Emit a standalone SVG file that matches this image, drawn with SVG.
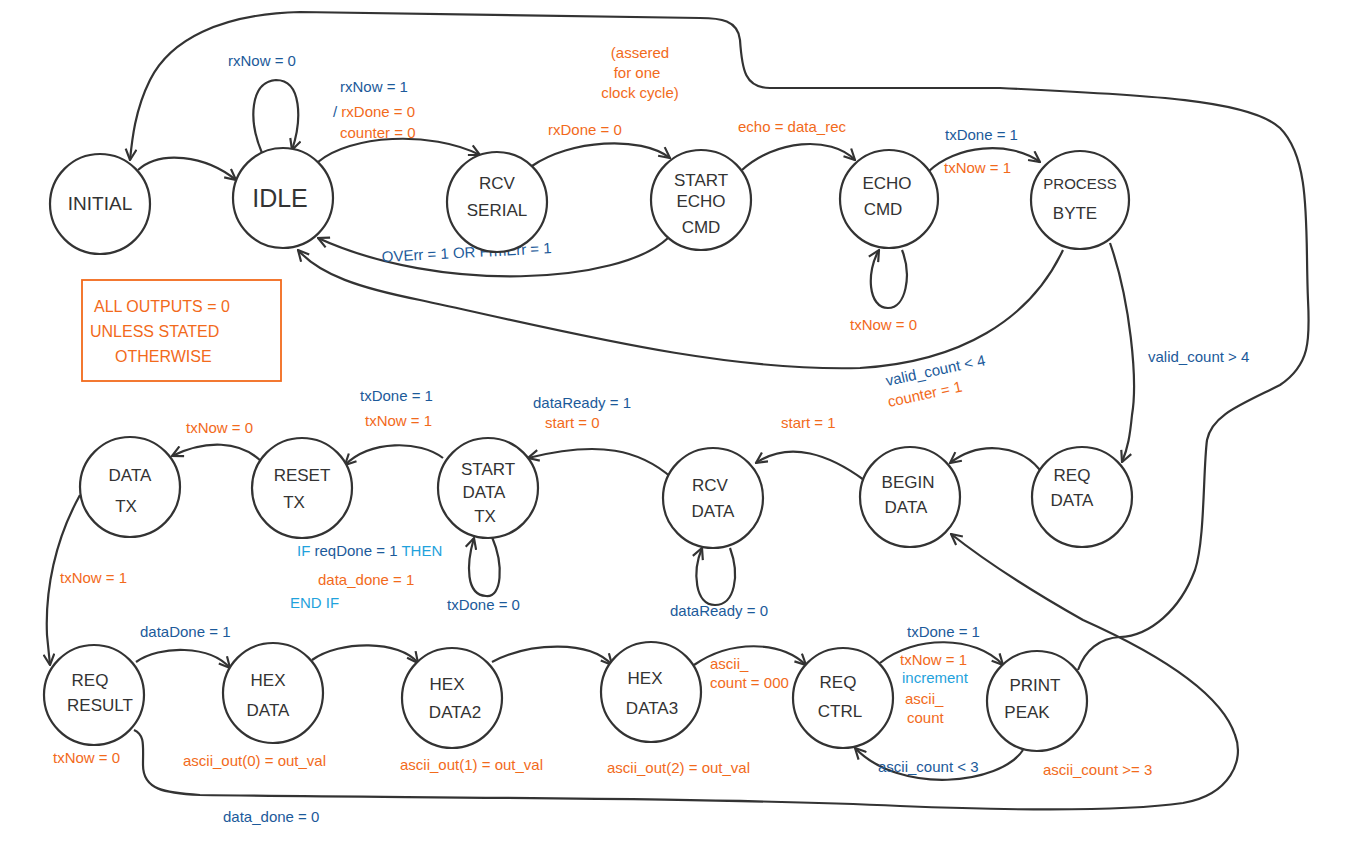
<svg xmlns="http://www.w3.org/2000/svg" width="1352" height="850" viewBox="0 0 1352 850">
<defs>
<marker id="arr" viewBox="0 0 12 12" refX="11" refY="6" markerWidth="13" markerHeight="13" markerUnits="userSpaceOnUse" orient="auto">
<path d="M1,1 L11,6 L1,11" fill="none" stroke="#333" stroke-width="2"/>
</marker>
<style>
.st{fill:#fff;stroke:#333;stroke-width:2.2}
.nt{font-family:"Liberation Sans",Arial,sans-serif;font-size:17px;fill:#333;text-anchor:middle}
.c{fill:none;stroke:#333;stroke-width:2.2;marker-end:url(#arr)}
.lb{font-family:"Liberation Sans",Arial,sans-serif;font-size:15px}
.b{fill:#1c5a9a}
.o{fill:#f26a1b}
.cy{fill:#1fa2dc}
</style>
</defs>
<rect width="1352" height="850" fill="#fff"/>

<g id="connectors">
<path class="c" d="M138,170 C160,150 205,155 236,180"/>
<path class="c" d="M262,153 C248,120 250,82 276,80 C302,80 302,120 292,150"/>
<path class="c" d="M318,162 C350,135 430,130 480,155"/>
<path class="c" d="M532,166 C570,140 640,135 670,158"/>
<path class="c" d="M668,238 C620,284 440,294 318,238"/>
<path class="c" d="M742,170 C775,140 830,135 855,160"/>
<path class="c" d="M902,250 C912,275 906,308 888,308 C868,308 866,272 879,250"/>
<path class="c" d="M928,172 C955,145 1010,140 1040,162"/>
<path class="c" d="M1063,250 C1030,320 960,362 860,368 C720,372 560,330 420,300 C360,288 320,275 298,250"/>
<path class="c" d="M1110,243 C1130,300 1138,380 1132,415 C1130,435 1128,448 1122,462"/>
<path class="c" d="M1040,470 C1020,445 980,440 950,463"/>
<path class="c" d="M864,480 C830,455 790,440 756,463"/>
<path class="c" d="M730,548 C740,575 735,605 715,605 C695,605 692,572 702,548"/>
<path class="c" d="M672,478 C640,450 600,440 528,458"/>
<path class="c" d="M492,537 C504,565 502,598 486,596 C466,595 466,565 474,538"/>
<path class="c" d="M443,458 C420,440 370,440 345,465"/>
<path class="c" d="M262,462 C240,440 205,440 172,456"/>
<path class="c" d="M80,495 C55,540 45,590 47,635 L50,665"/>
<path class="c" d="M136,662 C160,645 210,645 230,668"/>
<path class="c" d="M312,660 C340,640 400,640 418,663"/>
<path class="c" d="M492,662 C530,642 590,640 612,665"/>
<path class="c" d="M694,665 C730,640 780,640 806,665"/>
<path class="c" d="M880,663 C915,635 975,635 1003,665"/>
<path class="c" d="M1023,750 C1000,785 900,795 855,748"/>
<path class="c" d="M134,730 C145,735 143,745 143,765 C143,790 165,793 200,795 C400,798 700,797 900,806 C1000,810 1120,812 1183,803 C1230,795 1245,760 1235,735 C1220,690 1150,650 1083,620 C1030,590 990,565 951,534"/>
<path class="c" d="M1078,670 C1085,650 1100,638 1120,637 C1150,636 1180,610 1195,570 C1205,540 1203,470 1207,440 C1212,415 1240,405 1280,385 C1310,365 1310,340 1308,300 C1305,230 1312,160 1280,128 C1250,100 1150,95 1000,88 L770,88 C745,88 742,70 740,40 C738,20 720,18 700,18 L300,12 C220,14 170,40 150,80 C135,110 132,140 130,160"/>
</g>

<g id="labels">
<text class="lb b" x="228" y="66">rxNow = 0</text>
<text class="lb b" x="340" y="92">rxNow = 1</text>
<text class="lb" x="333" y="117"><tspan class="b">/</tspan><tspan class="o"> rxDone = 0</tspan></text>
<text class="lb o" x="340" y="138">counter = 0</text>
<text class="lb o" x="640" y="58" text-anchor="middle">(assered</text>
<text class="lb o" x="637" y="78" text-anchor="middle">for one</text>
<text class="lb o" x="640" y="98" text-anchor="middle">clock cycle)</text>
<text class="lb o" x="548" y="135">rxDone = 0</text>
<text class="lb o" x="738" y="132">echo = data_rec</text>
<text class="lb b" x="945" y="140">txDone = 1</text>
<text class="lb o" x="944" y="173">txNow = 1</text>
<text class="lb o" x="850" y="330">txNow = 0</text>
<text class="lb b" x="382" y="262" transform="rotate(-3 382 262)">OVErr = 1   OR   FrmErr = 1</text>
<text class="lb b" x="887" y="386" transform="rotate(-12 887 386)">valid_count &lt; 4</text>
<text class="lb o" x="889" y="407" transform="rotate(-12 889 407)">counter = 1</text>
<text class="lb b" x="1148" y="362">valid_count &gt; 4</text>
<text class="lb o" x="186" y="433">txNow = 0</text>
<text class="lb b" x="360" y="401">txDone = 1</text>
<text class="lb o" x="365" y="426">txNow = 1</text>
<text class="lb b" x="533" y="408">dataReady = 1</text>
<text class="lb o" x="545" y="428">start = 0</text>
<text class="lb o" x="781" y="428">start = 1</text>
<text class="lb" x="297" y="556"><tspan class="cy">IF</tspan><tspan class="b"> reqDone = 1 </tspan><tspan class="cy">THEN</tspan></text>
<text class="lb o" x="318" y="585">data_done = 1</text>
<text class="lb cy" x="290" y="608">END IF</text>
<text class="lb b" x="447" y="610">txDone = 0</text>
<text class="lb b" x="670" y="616">dataReady = 0</text>
<text class="lb o" x="60" y="583">txNow = 1</text>
<text class="lb b" x="140" y="637">dataDone = 1</text>
<text class="lb o" x="53" y="763">txNow = 0</text>
<text class="lb o" x="183" y="766">ascii_out(0) = out_val</text>
<text class="lb o" x="400" y="770">ascii_out(1) = out_val</text>
<text class="lb o" x="607" y="773">ascii_out(2) = out_val</text>
<text class="lb o" x="710" y="669">ascii_</text>
<text class="lb o" x="710" y="688">count = 000</text>
<text class="lb b" x="907" y="637">txDone = 1</text>
<text class="lb o" x="900" y="665">txNow = 1</text>
<text class="lb cy" x="902" y="683">increment</text>
<text class="lb o" x="905" y="704">ascii_</text>
<text class="lb o" x="907" y="723">count</text>
<text class="lb b" x="878" y="772">ascii_count &lt; 3</text>
<text class="lb o" x="1043" y="775">ascii_count &gt;= 3</text>
<text class="lb b" x="223" y="822">data_done = 0</text>
</g>

<g id="note">
<rect x="82" y="280" width="199" height="101" fill="none" stroke="#f26a1b" stroke-width="1.8"/>
<text class="lb o" x="94" y="312" style="font-size:16px">ALL  OUTPUTS  = 0</text>
<text class="lb o" x="90" y="337" style="font-size:16px">UNLESS STATED</text>
<text class="lb o" x="115" y="362" style="font-size:16px">OTHERWISE</text>
</g>

<g id="INITIAL"><circle class="st" cx="100" cy="204" r="50"/><text class="nt" x="100" y="210" style="font-size:19px">INITIAL</text></g>
<g id="IDLE"><circle class="st" cx="283" cy="198" r="50"/><text class="nt" x="280" y="207" style="font-size:25px">IDLE</text></g>
<g id="RCV_SERIAL"><circle class="st" cx="497" cy="202" r="50"/><text class="nt" x="497" y="189">RCV</text><text class="nt" x="497" y="216">SERIAL</text></g>
<g id="START_ECHO_CMD"><circle class="st" cx="701" cy="200" r="50"/><text class="nt" x="701" y="186">START</text><text class="nt" x="701" y="207">ECHO</text><text class="nt" x="701" y="233">CMD</text></g>
<g id="ECHO_CMD"><circle class="st" cx="889" cy="199" r="49"/><text class="nt" x="887" y="189">ECHO</text><text class="nt" x="883" y="215">CMD</text></g>
<g id="PROCESS_BYTE"><circle class="st" cx="1080" cy="200" r="49"/><text class="nt" x="1080" y="189" style="font-size:15px">PROCESS</text><text class="nt" x="1075" y="219">BYTE</text></g>

<g id="DATA_TX"><circle class="st" cx="130" cy="487" r="50"/><text class="nt" x="130" y="481">DATA</text><text class="nt" x="126" y="512">TX</text></g>
<g id="RESET_TX"><circle class="st" cx="302" cy="488" r="50"/><text class="nt" x="302" y="481">RESET</text><text class="nt" x="294" y="508">TX</text></g>
<g id="START_DATA_TX"><circle class="st" cx="488" cy="488" r="50"/><text class="nt" x="488" y="475">START</text><text class="nt" x="484" y="498">DATA</text><text class="nt" x="485" y="522">TX</text></g>
<g id="RCV_DATA"><circle class="st" cx="713" cy="498" r="50"/><text class="nt" x="710" y="491">RCV</text><text class="nt" x="713" y="517">DATA</text></g>
<g id="BEGIN_DATA"><circle class="st" cx="910" cy="497" r="50"/><text class="nt" x="908" y="488">BEGIN</text><text class="nt" x="906" y="513">DATA</text></g>
<g id="REQ_DATA"><circle class="st" cx="1082" cy="497" r="50"/><text class="nt" x="1072" y="481">REQ</text><text class="nt" x="1072" y="506">DATA</text></g>

<g id="REQ_RESULT"><circle class="st" cx="94" cy="695" r="50"/><text class="nt" x="90" y="686">REQ</text><text class="nt" x="100" y="711">RESULT</text></g>
<g id="HEX_DATA"><circle class="st" cx="273" cy="693" r="50"/><text class="nt" x="268" y="686">HEX</text><text class="nt" x="268" y="716">DATA</text></g>
<g id="HEX_DATA2"><circle class="st" cx="452" cy="698" r="50"/><text class="nt" x="447" y="690">HEX</text><text class="nt" x="455" y="718">DATA2</text></g>
<g id="HEX_DATA3"><circle class="st" cx="651" cy="692" r="50"/><text class="nt" x="645" y="684">HEX</text><text class="nt" x="652" y="714">DATA3</text></g>
<g id="REQ_CTRL"><circle class="st" cx="843" cy="698" r="50"/><text class="nt" x="838" y="688">REQ</text><text class="nt" x="840" y="717">CTRL</text></g>
<g id="PRINT_PEAK"><circle class="st" cx="1037" cy="701" r="50"/><text class="nt" x="1035" y="691">PRINT</text><text class="nt" x="1027" y="718">PEAK</text></g>
</svg>
